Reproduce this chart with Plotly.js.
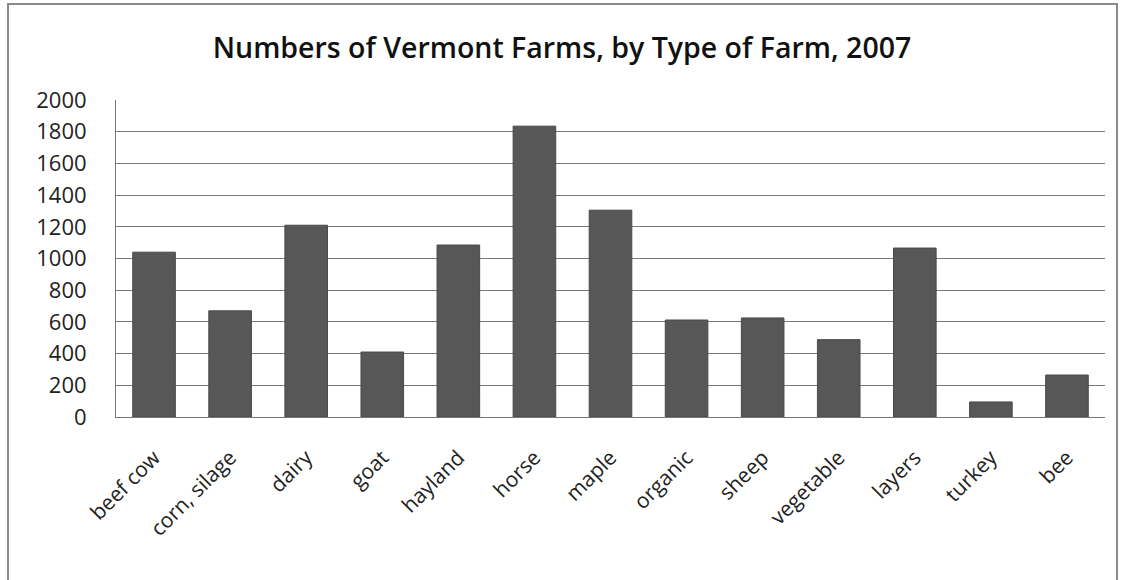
<!DOCTYPE html>
<html><head><meta charset="utf-8">
<script src="https://cdn.plot.ly/plotly-3.0.1.min.js"></script>
<style>
html,body{margin:0;padding:0;background:#fff;}
#frame{position:absolute;left:7px;top:3px;width:1111px;height:600px;border:2px solid #8a8a8a;border-bottom:none;box-sizing:border-box;pointer-events:none;}
#chart{width:1124px;height:580px;}
</style></head>
<body>
<div id="chart"></div>
<div id="frame"></div>
<script>
const categories = ["beef cow","corn, silage","dairy","goat","hayland","horse","maple","organic","sheep","vegetable","layers","turkey","bee"];
const farms = [1040, 670, 1210, 410, 1085, 1835, 1305, 612, 625, 488, 1066, 95, 265];
const yTicks = [0,200,400,600,800,1000,1200,1400,1600,1800,2000];

const trace = {
  type: 'bar',
  x: categories,
  y: farms,
  marker: {color: '#575757', line: {color: '#4a4a4a', width: 1}},
  hoverinfo: 'x+y'
};
const layout = {
  width: 1124, height: 580,
  margin: {l: 116, r: 19, t: 100, b: 163},
  paper_bgcolor: '#ffffff', plot_bgcolor: '#ffffff',
  bargap: 0.44,
  showlegend: false,
  title: {text: 'Numbers of Vermont Farms, by Type of Farm, 2007', x: 0.5, xanchor: 'center', y: 0.918, yanchor: 'middle',
          font: {family: 'Open Sans, sans-serif', size: 28.5, color: '#111', weight: 600}},
  xaxis: {type: 'category', tickangle: -45, showline: true, linecolor: '#777', linewidth: 1,
          ticks: '', ticklabelstandoff: 19,
          tickfont: {family: 'Open Sans, sans-serif', size: 21, color: '#222'}, showgrid: false},
  yaxis: {range: [0, 2000], tickvals: yTicks, ticktext: yTicks.map(String), showline: true, linecolor: '#777', linewidth: 1,
          showgrid: true, gridcolor: '#7a7a7a', gridwidth: 1, zeroline: false, ticks: '', ticklabelstandoff: 24,
          tickfont: {family: 'Open Sans, sans-serif', size: 22, color: '#222'}}
};
Plotly.newPlot('chart', [trace], layout, {displayModeBar: false, staticPlot: true});
</script>
</body></html>
